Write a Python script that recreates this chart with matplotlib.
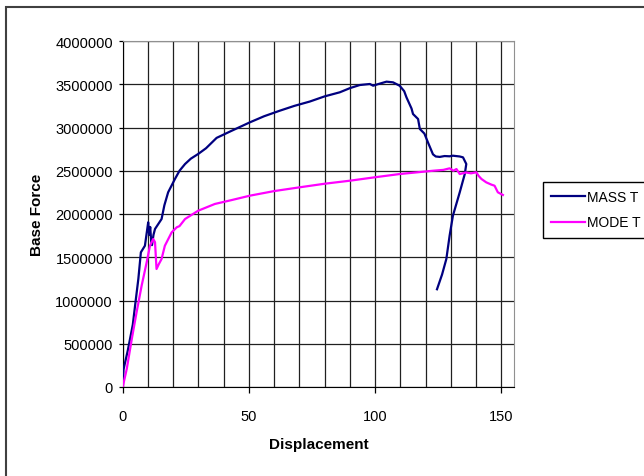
import matplotlib.pyplot as plt
from matplotlib.ticker import MultipleLocator, FuncFormatter
from matplotlib.patches import Rectangle

# Series
mass_x = [0, 0.3, 2.0, 2.9, 4.0, 4.9, 6.2, 7.2, 8.8, 9.6, 10.1, 10.5, 10.9, 11.3, 11.6,
          12.2, 12.8, 14.0, 15.4, 16.5, 18.0, 20.7, 22.5, 24.7, 27.0, 29.9, 33.0, 37.2,
          43.0, 50.4, 56.0, 62.2, 68.0, 74.1, 80.0, 86.0, 90.0, 93.9, 97.9, 99.2, 101.0,
          104.5, 107.1, 109.7, 111.5, 112.4, 114.4, 115.0, 117.0, 117.7, 119.5, 120.9,
          122.9, 124.0, 125.6, 127.5, 129.5, 130.8, 133.5, 134.8, 136.1, 135.5, 133.5,
          130.8, 129.5, 128.2, 126.5, 124.5]
mass_y = [0, 200000, 420000, 555000, 720000, 940000, 1250000, 1557000, 1633000, 1800000,
          1904000, 1760000, 1850000, 1680000, 1640000, 1760000, 1827000, 1880000, 1942000,
          2100000, 2251000, 2405000, 2500000, 2578000, 2640000, 2694000, 2760000, 2880000,
          2960000, 3060000, 3130000, 3194000, 3250000, 3300000, 3360000, 3407000, 3455000,
          3491000, 3503000, 3483000, 3500000, 3530000, 3522000, 3483000, 3420000, 3349000,
          3220000, 3156000, 3098000, 2983000, 2930000, 2829000, 2690000, 2665000, 2660000,
          2670000, 2667000, 2674000, 2665000, 2655000, 2578000, 2462000, 2250000, 1980000,
          1750000, 1480000, 1300000, 1130000]

mode_x = [0, 1.6, 3.6, 5.5, 7.5, 9.5, 10.8, 12.1, 12.8, 13.4, 14.3, 15.4, 16.7, 19.4,
          21.4, 22.5, 24.7, 29.9, 36.5, 43.0, 50.4, 60.0, 70.2, 80.0, 90.0, 100.0, 109.7,
          116.0, 122.9, 127.0, 129.5, 131.0, 132.2, 133.5, 136.0, 138.0, 140.1, 141.0,
          142.1, 144.0, 146.0, 147.3, 148.6, 150.6]
mode_y = [0, 208000, 555000, 864000, 1171000, 1442000, 1633000, 1711000, 1673000, 1364000,
          1420000, 1480000, 1633000, 1788000, 1846000, 1860000, 1942000, 2038000, 2116000,
          2160000, 2212000, 2265000, 2309000, 2350000, 2385000, 2425000, 2462000, 2480000,
          2500000, 2510000, 2528000, 2500000, 2520000, 2462000, 2480000, 2470000, 2482000,
          2440000, 2405000, 2366000, 2340000, 2327000, 2251000, 2220000]

plt.rcParams['font.family'] = ['Liberation Sans', 'DejaVu Sans']

fig = plt.figure(figsize=(6.44, 4.77), dpi=100)
ax = fig.add_axes([122.7 / 644, 1 - 388 / 477, (514 - 122.7) / 644, (388 - 42) / 477])

ax.plot(mass_x, mass_y, color='#000080', lw=1.6, label='MASS T', zorder=3)
ax.plot(mode_x, mode_y, color='#FF00FF', lw=1.6, label='MODE T', zorder=3)

ax.set_xlim(0, 155)
ax.set_ylim(0, 4000000)
ax.xaxis.set_major_locator(MultipleLocator(50))
ax.xaxis.set_minor_locator(MultipleLocator(10))
ax.yaxis.set_major_locator(MultipleLocator(500000))
ax.yaxis.set_major_formatter(FuncFormatter(lambda v, p: '%d' % v))
ax.grid(True, which='both', axis='x', color='#202020', lw=0.9)
ax.grid(True, which='major', axis='y', color='#202020', lw=0.9)
ax.set_axisbelow(True)

ax.tick_params(axis='x', which='major', direction='out', length=4, width=0.9,
               labelsize=10.5, pad=12)
ax.tick_params(axis='x', which='minor', length=0)
ax.tick_params(axis='y', direction='out', length=3, width=0.9, labelsize=10.5, pad=4)

for s in ['left', 'bottom']:
    ax.spines[s].set_color('black')
for s in ['top', 'right']:
    ax.spines[s].set_color('#909090')

ax.set_xlabel('Displacement', fontsize=11, fontweight='bold', labelpad=10)
ax.set_ylabel('Base Force', fontsize=11, fontweight='bold', labelpad=8)

leg = ax.legend(loc='upper left', bbox_to_anchor=(543 / 644, 1 - 183 / 477),
                bbox_transform=fig.transFigure, borderaxespad=0, fontsize=10,
                handlelength=2.4, handletextpad=0.2, labelspacing=0.8,
                borderpad=0.6, fancybox=False, framealpha=1)
leg.get_frame().set_edgecolor('black')
leg.get_frame().set_linewidth(1.0)

# outer chart frame
fig.add_artist(Rectangle((6 / 644, -0.1), 1.2, 1 - 8 / 477 + 0.1,
                         transform=fig.transFigure, fill=False,
                         edgecolor='#404040', lw=1.5))

plt.savefig('out.png', dpi=100)
